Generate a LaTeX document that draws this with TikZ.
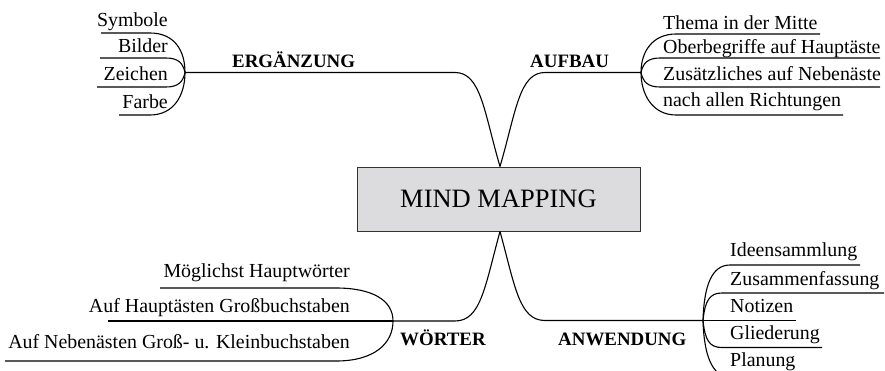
\documentclass[tikz,border=0pt]{standalone}
\usepackage{fontspec}
\setmainfont{Liberation Serif}
\definecolor{boxgray}{HTML}{DCDCDE}
\definecolor{boxline}{HTML}{333333}
\begin{document}
\begin{tikzpicture}[x=1pt,y=-1pt,
  item/.style={font=\fontsize{19.9}{22}\selectfont, inner sep=0pt},
  lbl/.style={font=\bfseries\fontsize{18.9}{22}\selectfont, inner sep=0pt},
  br/.style={line width=1.1pt, black},
  center/.style={draw=boxline, line width=1pt, fill=boxgray, minimum width=283pt, minimum height=64pt, inner sep=0pt, font=\fontsize{26.5}{30}\selectfont}]
\useasboundingbox (0,0) rectangle (885,370);
\clip (0,0) rectangle (885,370);

% central node
\node[center] (mm) at (498.5,199) {MIND MAPPING};
\coordinate (tA) at ([xshift=1.5pt]mm.north);
\coordinate (bA) at ([xshift=1.5pt]mm.south);

% hubs
\coordinate (hE) at (185,72.5);
\coordinate (hA) at (641,72.5);
\coordinate (hW) at (393,321);
\coordinate (hN) at (703,320.5);

% main branches
\draw[br] (tA) .. controls (484,112) and (481,72.5) .. (455,72.5) -- (hE);
\draw[br] (tA) .. controls (516,112) and (519,72.5) .. (545,72.5) -- (hA);
\draw[br] (bA) .. controls (485,286) and (481,321) .. (455,321) -- (hW);
\draw[br] (bA) .. controls (515,286) and (519,320.5) .. (545,320.5) -- (hN);

% labels
\node[lbl, anchor=base west] (lE) at (232,67) {ERGÄNZUNG};
\node[lbl, anchor=base west] (lA) at (530,67) {AUFBAU};
\node[lbl, anchor=base west] (lW) at (400,345) {WÖRTER};
\node[lbl, anchor=base west] (lN) at (558,345) {ANWENDUNG};

% ERGÄNZUNG items
\node[item, anchor=base east] (e1) at (168,26) {Symbole};
\node[item, anchor=base east] (e2) at (168,52) {Bilder};
\node[item, anchor=base east] (e3) at (168,80) {Zeichen};
\node[item, anchor=base east] (e4) at (168,108) {Farbe};
\coordinate (ue1) at (101,33);
\coordinate (ue2) at (100,58);
\coordinate (ue3) at (97,87);
\coordinate (ue4) at (119,115);
\draw[br] (hE) .. controls (185,50) and (174,33) .. (150,33) -- (ue1);
\draw[br] (hE) .. controls (183,63) and (178,58) .. (166,58) -- (ue2);
\draw[br] (hE) .. controls (183,82) and (178,87) .. (166,87) -- (ue3);
\draw[br] (hE) .. controls (185,95) and (174,115) .. (150,115) -- (ue4);

% AUFBAU items
\node[item, anchor=base west] (a1) at (663,29) {Thema in der Mitte};
\node[item, anchor=base west] (a2) at (663,53) {Oberbegriffe auf Hauptäste};
\node[item, anchor=base west] (a3) at (663,80) {Zusätzliches auf Nebenäste};
\node[item, anchor=base west] (a4) at (663,106) {nach allen Richtungen};
\coordinate (ua1) at (820,34);
\coordinate (ua2) at (880,58);
\coordinate (ua3) at (880,87);
\coordinate (ua4) at (843,115);
\draw[br] (hA) .. controls (641,51) and (653,34) .. (676,34) -- (ua1);
\draw[br] (hA) .. controls (643,63) and (648,58) .. (660,58) -- (ua2);
\draw[br] (hA) .. controls (643,82) and (648,87) .. (660,87) -- (ua3);
\draw[br] (hA) .. controls (641,95) and (653,115) .. (676,115) -- (ua4);

% WÖRTER items
\node[item, anchor=base east] (w1) at (350,277) {Möglichst Hauptwörter};
\node[item, anchor=base east] (w2) at (350,312) {Auf Hauptästen Großbuchstaben};
\node[item, anchor=base east] (w3) at (350,348) {Auf Nebenästen Groß- u. Kleinbuchstaben};
\coordinate (uw1) at (160,288);
\coordinate (uw2) at (108,321);
\coordinate (uw3) at (5,361);
\draw[br] (hW) .. controls (393,300) and (372,288) .. (336,288) -- (uw1);
\draw[br] (hW) -- (uw2);
\draw[br] (hW) .. controls (393,343) and (375,361) .. (336,361) -- (uw3);

% ANWENDUNG items
\node[item, anchor=base west] (n1) at (730,256) {Ideensammlung};
\node[item, anchor=base west] (n2) at (730,285) {Zusammenfassung};
\node[item, anchor=base west] (n3) at (730,312) {Notizen};
\node[item, anchor=base west] (n4) at (730,339) {Gliederung};
\node[item, anchor=base west] (n5) at (730,366) {Planung};
\coordinate (un1) at (860,265);
\coordinate (un2) at (884,293);
\coordinate (un3) at (796,320.5);
\coordinate (un4) at (822,347.5);
\coordinate (un5) at (800,377);
\draw[br] (hN) .. controls (704,285) and (712,265) .. (730,265) -- (un1);
\draw[br] (hN) .. controls (705,300) and (710,293) .. (722,293) -- (un2);
\draw[br] (hN) -- (un3);
\draw[br] (hN) .. controls (705,341) and (710,347.5) .. (722,347.5) -- (un4);
\draw[br] (hN) .. controls (704,355) and (712,377) .. (730,377) -- (un5);
\end{tikzpicture}
\end{document}
